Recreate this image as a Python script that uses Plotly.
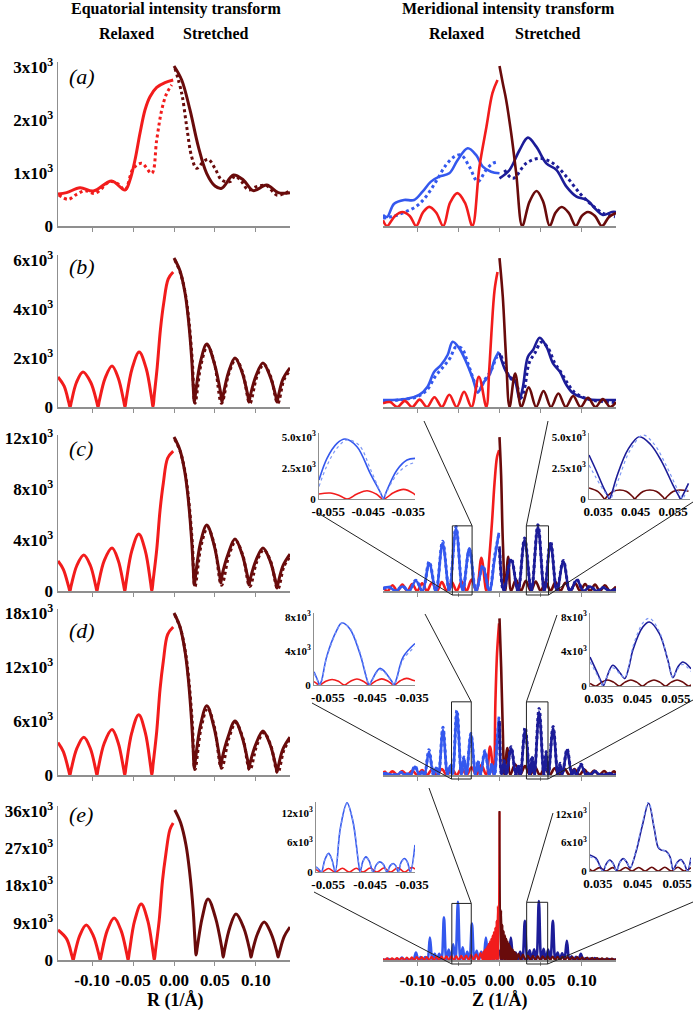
import plotly.graph_objects as go

# ===================== DATA =====================
# ---- Equatorial (left column) ----
EQ_A_REL_X = [-0.1415, -0.131, -0.1146, -0.0984, -0.076, -0.0598, -0.0537, -0.0476, -0.0415, -0.0354, -0.0293, -0.0211, -0.011, -0.001]
EQ_A_REL_Y = [604, 629, 723, 660, 849, 679, 868, 1245, 1749, 2189, 2440, 2617, 2705, 2755]
EQ_A_REL_DOT_X = [-0.1407, -0.129, -0.1187, -0.1085, -0.0963, -0.078, -0.068, -0.0598, -0.0496, -0.0394, -0.0272, -0.0211, -0.015, -0.0089, -0.0028]
EQ_A_REL_DOT_Y = [585, 503, 598, 667, 616, 837, 793, 679, 1088, 1183, 994, 1623, 2189, 2503, 2661]
EQ_A_STR_X = [0.0, 0.0094, 0.0195, 0.0297, 0.0398, 0.05, 0.0581, 0.0724, 0.0846, 0.0967, 0.113, 0.1272, 0.1415]
EQ_A_STR_Y = [3019, 2755, 2189, 1497, 994, 755, 711, 962, 868, 667, 774, 629, 629]
EQ_A_STR_DOT_X = [0.0012, 0.0094, 0.0155, 0.0215, 0.0276, 0.0358, 0.0419, 0.05, 0.0581, 0.0683, 0.0744, 0.0825, 0.0906, 0.1008, 0.113, 0.1252, 0.1354, 0.1415]
EQ_A_STR_DOT_Y = [2975, 2503, 1874, 1308, 1088, 1214, 1258, 1088, 868, 837, 944, 837, 679, 742, 761, 585, 616, 667]

EQ_B_REL_X = [-0.1415, -0.134, -0.1283, -0.1268, -0.1253, -0.119, -0.111, -0.1015, -0.0942, -0.0927, -0.0912, -0.084, -0.0756, -0.068, -0.0613, -0.0598, -0.0583, -0.051, -0.0425, -0.034, -0.0271, -0.0256, -0.0241, -0.0205, -0.0165, -0.0125, -0.007, -0.001]
EQ_B_REL_Y = [1224, 850, 175, 0, 200, 1000, 1430, 1000, 200, 0, 235, 1180, 1673, 1180, 235, 0, 315, 1580, 2244, 1580, 315, 0, 480, 1620, 3180, 4250, 5230, 5508]
EQ_B_STR_X = [0.0, 0.0073, 0.0134, 0.0175, 0.0215, 0.0233, 0.0248, 0.0263, 0.032, 0.040, 0.049, 0.057, 0.0585, 0.060, 0.0665, 0.0744, 0.083, 0.090, 0.0915, 0.093, 0.100, 0.1085, 0.117, 0.1241, 0.1256, 0.1271, 0.133, 0.1415]
EQ_B_STR_Y = [6080, 5560, 4660, 3590, 2010, 900, 200, 560, 1800, 2570, 1800, 560, 200, 480, 1420, 2000, 1420, 480, 200, 450, 1270, 1795, 1270, 450, 200, 420, 1150, 1600]
EQ_DOT_X = [0.001, 0.0081, 0.0142, 0.0183, 0.0223, 0.0256, 0.033, 0.041, 0.0495, 0.058, 0.067, 0.0754, 0.084, 0.0925, 0.101, 0.1095, 0.118, 0.1266, 0.134, 0.1415]
EQ_B_STR_DOT_Y = [6000, 5450, 4550, 3480, 1900, 150, 1740, 2500, 1760, 150, 1380, 1950, 1380, 150, 1230, 1740, 1230, 150, 1100, 1500]

EQ_CD_REL_X = [-0.1415, -0.135, -0.1285, -0.127, -0.1255, -0.1185, -0.110, -0.102, -0.0955, -0.094, -0.0925, -0.085, -0.0756, -0.068, -0.0615, -0.060, -0.0585, -0.0515, -0.043, -0.035, -0.0285, -0.027, -0.0255, -0.0211, -0.017, -0.013, -0.0077, -0.001]
EQ_C_REL_Y = [2352, 1700, 330, 0, 400, 2000, 2822, 2000, 400, 0, 470, 2400, 3371, 2400, 470, 0, 630, 3150, 4469, 3150, 630, 0, 800, 3220, 6350, 8470, 10430, 10976]
EQ_CD_STR_X = [0.0, 0.0073, 0.0134, 0.0175, 0.0215, 0.0233, 0.0248, 0.0263, 0.032, 0.040, 0.0485, 0.0555, 0.057, 0.0585, 0.066, 0.0744, 0.083, 0.09, 0.0915, 0.093, 0.100, 0.1085, 0.117, 0.1241, 0.1256, 0.1271, 0.133, 0.1415]
EQ_C_STR_Y = [12074, 11050, 9250, 7130, 4000, 2000, 470, 1190, 3700, 5174, 3700, 1350, 627, 1200, 2900, 4077, 2900, 1040, 470, 940, 2400, 3371, 2400, 700, 235, 640, 2000, 2900]
EQ_C_STR_DOT_Y = [11900, 10850, 9050, 6900, 3800, 350, 3550, 4980, 3560, 450, 2780, 3920, 2780, 350, 2300, 3230, 2300, 150, 1900, 2700]

EQ_D_REL_Y = [3600, 2600, 510, 0, 590, 2950, 4200, 2950, 590, 0, 700, 3550, 5050, 3550, 700, 0, 940, 4700, 6700, 4700, 940, 0, 1200, 4820, 9540, 12670, 15630, 16450]
EQ_D_STR_Y = [18000, 16470, 13790, 10620, 5940, 3000, 720, 1800, 5400, 7700, 5400, 1980, 900, 1740, 4250, 6000, 4250, 1540, 700, 1390, 3450, 4900, 3450, 1040, 350, 940, 2900, 4200]
EQ_D_STR_DOT_Y = [17800, 16200, 13500, 10350, 5800, 600, 5200, 7450, 5250, 750, 4100, 5800, 4100, 550, 3300, 4700, 3300, 250, 2750, 4000]

EQ_E_REL_X = [-0.1415, -0.131, -0.1245, -0.123, -0.1215, -0.115, -0.107, -0.0985, -0.0915, -0.090, -0.0885, -0.0815, -0.073, -0.0645, -0.0575, -0.056, -0.0545, -0.048, -0.040, -0.032, -0.0255, -0.024, -0.0225, -0.018, -0.014, -0.010, -0.005, -0.001]
EQ_E_REL_Y = [7250, 5100, 1000, 0, 1180, 5900, 8450, 5900, 1180, 0, 1420, 7100, 10150, 7100, 1420, 0, 1900, 9500, 13530, 9500, 1900, 0, 2400, 9700, 19200, 25500, 31500, 33100]
EQ_E_STR_X = [0.001, 0.008, 0.0146, 0.019, 0.0234, 0.0255, 0.027, 0.0285, 0.0345, 0.0415, 0.0505, 0.0585, 0.060, 0.0615, 0.068, 0.0756, 0.085, 0.0925, 0.094, 0.0955, 0.102, 0.110, 0.1185, 0.1255, 0.127, 0.1285, 0.1345, 0.1415]
EQ_E_STR_Y = [36240, 33200, 27800, 21400, 12000, 5000, 1200, 3200, 10300, 14740, 10300, 2700, 700, 2250, 7800, 11100, 7800, 2250, 700, 1980, 6400, 9180, 6400, 1980, 700, 1800, 5700, 7970]

# ---- Meridional (right column) ----
MER_A_REL_X = [-0.1415, -0.1366, -0.127, -0.118, -0.109, -0.1012, -0.093, -0.0854, -0.077, -0.0683, -0.060, -0.0512, -0.042, -0.0329, -0.0244, -0.0159, -0.0085, -0.0024]
MER_A_REL_Y = [110, 0, 190, 264, 190, 0, 255, 360, 255, 0, 440, 620, 440, 0, 1113, 1868, 2510, 2755]
MER_A_STR_X = [0.0, 0.004, 0.0081, 0.0142, 0.0203, 0.0276, 0.0365, 0.045, 0.053, 0.061, 0.068, 0.0756, 0.084, 0.0927, 0.100, 0.1073, 0.116, 0.1244, 0.133, 0.1415]
MER_A_STR_Y = [3019, 2692, 2378, 1749, 994, 0, 460, 660, 460, 0, 250, 358, 250, 0, 190, 264, 190, 0, 170, 245]
MER_A_BLUE_X = [-0.1415, -0.1366, -0.128, -0.1159, -0.1037, -0.0935, -0.0833, -0.0732, -0.061, -0.0508, -0.0386, -0.0285, -0.0203, -0.0102, 0.0]
MER_A_BLUE_Y = [208, 170, 420, 491, 491, 648, 837, 931, 994, 1245, 1466, 1340, 1120, 1025, 994]
MER_A_BDOT_X = [-0.1415, -0.133, -0.124, -0.1016, -0.0894, -0.0772, -0.065, -0.0549, -0.0467, -0.0366, -0.0264, -0.0163, -0.0081, -0.0008]
MER_A_BDOT_Y = [150, 170, 208, 365, 553, 837, 1151, 1308, 1340, 1120, 837, 1057, 1183, 1214]
MER_A_DBLUE_X = [0.0, 0.0122, 0.0244, 0.0345, 0.0447, 0.0569, 0.0691, 0.0813, 0.0935, 0.1057, 0.1179, 0.1256, 0.1366, 0.1415]
MER_A_DBLUE_Y = [899, 1057, 1434, 1667, 1497, 1183, 1057, 742, 553, 491, 302, 208, 264, 264]
MER_A_DBDOT_X = [0.0061, 0.0163, 0.0325, 0.0488, 0.065, 0.0813, 0.0976, 0.1098, 0.126, 0.1402]
MER_A_DBDOT_Y = [1057, 899, 1183, 1277, 1183, 931, 616, 428, 239, 176]

MER_B_REL_X = [-0.1415, -0.133, -0.124, -0.115, -0.106, -0.097, -0.088, -0.079, -0.070, -0.061, -0.052, -0.043, -0.034, -0.025, -0.016, -0.0125, -0.0098, -0.006, -0.0024]
MER_B_REL_Y = [150, 200, 0, 250, 0, 300, 0, 400, 0, 500, 0, 620, 0, 1230, 0, 1500, 3020, 4770, 5508]
MER_B_STR_X = [0.0, 0.004, 0.008, 0.0122, 0.019, 0.0265, 0.0355, 0.0445, 0.0535, 0.0625, 0.0715, 0.0805, 0.0895, 0.0985, 0.1075, 0.1165, 0.1255, 0.1345, 0.1415]
MER_B_STR_Y = [6080, 4500, 2000, 0, 1370, 0, 800, 0, 650, 0, 550, 0, 450, 0, 380, 0, 320, 0, 200]
MER_B_BLUE_X = [-0.1415, -0.1138, -0.0976, -0.0874, -0.0793, -0.0711, -0.063, -0.0569, -0.0488, -0.0406, -0.0325, -0.0264, -0.0203, -0.0122, -0.0061, -0.0008]
MER_B_BLUE_Y = [286, 326, 490, 830, 1442, 1713, 2122, 2665, 2393, 1850, 1170, 585, 966, 1306, 1918, 2258]
MER_B_BDOT_X = [-0.1415, -0.12, -0.10, -0.088, -0.078, -0.068, -0.060, -0.053, -0.046, -0.038, -0.030, -0.0245, -0.018, -0.010, -0.004, 0.0]
MER_B_BDOT_Y = [200, 300, 420, 700, 1250, 1650, 2000, 2450, 2400, 1750, 1000, 700, 1100, 1500, 2000, 2200]
MER_B_DBLUE_X = [0.0, 0.0061, 0.0122, 0.0183, 0.0244, 0.0285, 0.0345, 0.0407, 0.0488, 0.057, 0.065, 0.0732, 0.0813, 0.0894, 0.0976, 0.1077, 0.122, 0.1415]
MER_B_DBLUE_Y = [2190, 1578, 1238, 1102, 313, 830, 2054, 2326, 2829, 2462, 1782, 1442, 898, 558, 422, 313, 286, 286]
MER_B_DBDOT_X = [0.002, 0.008, 0.014, 0.020, 0.0255, 0.030, 0.036, 0.043, 0.051, 0.059, 0.067, 0.075, 0.083, 0.091, 0.100, 0.11, 0.125, 0.1415]
MER_B_DBDOT_Y = [2100, 1500, 1150, 1000, 350, 700, 1800, 2200, 2650, 2400, 1800, 1400, 950, 600, 420, 300, 220, 180]

MER_C_REL_X = [-0.1415, -0.136, -0.130, -0.124, -0.118, -0.112, -0.106, -0.100, -0.094, -0.088, -0.082, -0.076, -0.070, -0.064, -0.058, -0.052, -0.046, -0.040, -0.034, -0.028, -0.022, -0.016, -0.0125, -0.009, -0.006, -0.003, -0.0005]
MER_C_REL_Y = [300, 0, 450, 0, 500, 0, 550, 0, 600, 0, 650, 0, 700, 0, 700, 0, 750, 0, 900, 0, 2600, 0, 2500, 5500, 8500, 10500, 11050]
MER_C_STR_X = [0.0, 0.002, 0.004, 0.007, 0.0105, 0.014, 0.020, 0.026, 0.032, 0.038, 0.044, 0.050, 0.056, 0.062, 0.068, 0.074, 0.080, 0.086, 0.092, 0.098, 0.104, 0.110, 0.116, 0.122, 0.128, 0.134, 0.1415]
MER_C_STR_Y = [12070, 9000, 4000, 0, 2690, 0, 900, 0, 800, 0, 750, 0, 700, 0, 700, 0, 650, 0, 600, 0, 550, 0, 500, 0, 450, 0, 350]
MER_C_BLUE_X = [-0.1415, -0.134, -0.126, -0.118, -0.1098, -0.1016, -0.0935, -0.0854, -0.0772, -0.0691, -0.061, -0.0528, -0.0447, -0.0366, -0.0285, -0.0203, -0.0122, -0.006, -0.0008]
MER_C_BLUE_Y = [200, 300, 0, 350, 0, 808, 0, 2170, 0, 3740, 0, 4914, 0, 3348, 0, 1905, 0, 2500, 4570]
MER_C_BDOT_Y = [180, 320, 0, 380, 0, 850, 0, 2300, 0, 3900, 0, 5050, 0, 3250, 0, 1980, 0, 2700, 4450]
MER_C_DBLUE_X = [0.0, 0.005, 0.0142, 0.0224, 0.0305, 0.0386, 0.0467, 0.0545, 0.062, 0.0697, 0.0775, 0.0857, 0.094, 0.102, 0.110, 0.118, 0.126, 0.134, 0.1415]
MER_C_DBLUE_Y = [3500, 0, 2430, 0, 4000, 0, 5040, 0, 3740, 0, 2300, 0, 860, 0, 350, 0, 250, 0, 150]
MER_C_DBDOT_Y = [3300, 0, 2550, 0, 4150, 0, 5200, 0, 3900, 0, 2400, 0, 900, 0, 380, 0, 270, 0, 160]

MER_D_REL_X = [-0.1415, -0.139, -0.136, -0.130, -0.124, -0.118, -0.112, -0.106, -0.100, -0.094, -0.088, -0.082, -0.076, -0.070, -0.064, -0.058, -0.052, -0.046, -0.040, -0.034, -0.028, -0.022, -0.016, -0.0115, -0.007, -0.005, -0.003, -0.0005]
MER_D_REL_Y = [300, 350, 0, 400, 0, 450, 0, 500, 0, 550, 0, 600, 0, 650, 0, 700, 0, 750, 0, 850, 0, 1100, 0, 3150, 0, 8000, 13500, 16850]
MER_D_STR_X = [0.0, 0.002, 0.004, 0.006, 0.0095, 0.013, 0.019, 0.025, 0.031, 0.037, 0.043, 0.049, 0.055, 0.061, 0.067, 0.073, 0.079, 0.085, 0.091, 0.097, 0.103, 0.109, 0.115, 0.121, 0.127, 0.133, 0.139, 0.1415]
MER_D_STR_Y = [17400, 12000, 5000, 0, 3000, 0, 1200, 0, 1000, 0, 900, 0, 800, 0, 750, 0, 700, 0, 650, 0, 600, 0, 500, 0, 450, 0, 400, 200]
MER_D_BLUE_X = [-0.1415, -0.1367, -0.1312, -0.1282, -0.1252, -0.1197, -0.1142, -0.1112, -0.1082, -0.1027, -0.0972, -0.0942, -0.0912, -0.0857, -0.0802, -0.0772, -0.0742, -0.0687, -0.0632, -0.0602, -0.0572, -0.0517, -0.0462, -0.0432, -0.0402, -0.0347, -0.0292, -0.0262, -0.0232, -0.0177, -0.0122, -0.0092, -0.0062, -0.003, -0.0007]
MER_D_BLUE_Y = [100, 150, 0, 80, 0, 250, 0, 150, 0, 900, 0, 300, 0, 2590, 0, 800, 0, 5000, 0, 1000, 0, 6900, 0, 1950, 0, 4500, 0, 1500, 0, 2600, 0, 1200, 0, 3500, 6480]
MER_D_BDOT_Y = [120, 180, 0, 100, 0, 300, 0, 180, 0, 1000, 0, 350, 0, 2800, 0, 900, 0, 5300, 0, 1100, 0, 7200, 0, 2000, 0, 4600, 0, 1600, 0, 2700, 0, 1300, 0, 3600, 6300]
MER_D_DBLUE_X = [0.0, 0.0025, 0.0056, 0.0083, 0.0141, 0.0199, 0.0226, 0.0253, 0.0311, 0.0369, 0.0396, 0.0423, 0.0481, 0.0539, 0.0566, 0.0593, 0.0651, 0.0709, 0.0736, 0.0763, 0.0821, 0.0879, 0.0906, 0.0933, 0.0991, 0.1049, 0.1076, 0.1103, 0.1161, 0.1219, 0.1246, 0.1273, 0.1331, 0.1389, 0.1415]
MER_D_DBLUE_Y = [6000, 0, 1500, 0, 2960, 0, 1000, 0, 5000, 0, 2000, 0, 7000, 0, 2500, 0, 5190, 0, 1200, 0, 2780, 0, 500, 0, 1110, 0, 250, 0, 400, 0, 100, 0, 200, 0, 50]
MER_D_DBDOT_Y = [5800, 0, 1600, 0, 3150, 0, 1100, 0, 5300, 0, 2100, 0, 7400, 0, 2600, 0, 5400, 0, 1300, 0, 2900, 0, 550, 0, 1200, 0, 280, 0, 420, 0, 110, 0, 200, 0, 60]

MER_E_REL_X = [-0.1415, -0.1395, -0.1365, -0.1335, -0.1305, -0.1275, -0.1245, -0.1215, -0.1185, -0.1155, -0.1125, -0.1095, -0.1065, -0.1035, -0.1005, -0.0975, -0.0945, -0.0915, -0.0885, -0.0855, -0.0825, -0.0795, -0.0765, -0.0735, -0.0705, -0.0675, -0.0645, -0.0615, -0.0585, -0.0555, -0.0525, -0.0495, -0.0465, -0.0435, -0.0405, -0.0375, -0.0345, -0.0315, -0.0285, -0.0255, -0.023, -0.0205, -0.0197, -0.0189, -0.0181, -0.0173, -0.0165, -0.0157, -0.0149, -0.0141, -0.0133, -0.0125, -0.0117, -0.0109, -0.0101, -0.0093, -0.0085, -0.0077, -0.0069, -0.0061, -0.0053, -0.0045, -0.0037, -0.0029, -0.0021, -0.0013, 0.0]
MER_E_REL_Y = [300, 0, 400, 0, 450, 0, 500, 0, 550, 0, 600, 0, 650, 0, 700, 0, 700, 0, 750, 0, 800, 0, 800, 0, 850, 0, 900, 0, 900, 0, 950, 0, 1000, 0, 1100, 0, 1200, 0, 1400, 0, 1700, 0, 2000, 0, 2400, 0, 2800, 0, 3300, 0, 3900, 0, 4500, 0, 5200, 0, 6000, 0, 6800, 0, 7800, 0, 9500, 0, 13000, 0, 35800]
MER_E_STR_X = [0.0, 0.0013, 0.0021, 0.0029, 0.0037, 0.0045, 0.0053, 0.0061, 0.0069, 0.0077, 0.0085, 0.0093, 0.0101, 0.0109, 0.0117, 0.0125, 0.0133, 0.0141, 0.0149, 0.0157, 0.0165, 0.0173, 0.0181, 0.0189, 0.0197, 0.0205, 0.023, 0.0255, 0.0285, 0.0315, 0.0345, 0.0375, 0.0405, 0.0435, 0.0465, 0.0495, 0.0525, 0.0555, 0.0585, 0.0615, 0.0645, 0.0675, 0.0705, 0.0735, 0.0765, 0.0795, 0.0825, 0.0855, 0.0885, 0.0915, 0.0945, 0.0975, 0.1005, 0.1035, 0.1065, 0.1095, 0.1125, 0.1155, 0.1185, 0.1215, 0.1245, 0.1275, 0.1305, 0.1335, 0.1365, 0.1395, 0.1415]
MER_E_STR_Y = [36000, 0, 12000, 0, 8500, 0, 7000, 0, 6000, 0, 5200, 0, 4500, 0, 3900, 0, 3300, 0, 2800, 0, 2400, 0, 2000, 0, 1700, 0, 1500, 0, 1300, 0, 1100, 0, 1000, 0, 950, 0, 900, 0, 900, 0, 850, 0, 800, 0, 800, 0, 750, 0, 700, 0, 700, 0, 650, 0, 600, 0, 550, 0, 500, 0, 450, 0, 400, 0, 350, 0, 300]
MER_E_BLUE_X = [-0.1415, -0.1397, -0.1385, -0.1355, -0.1325, -0.1297, -0.127, -0.1242, -0.1215, -0.1185, -0.1155, -0.1127, -0.11, -0.1072, -0.1045, -0.1015, -0.0985, -0.0957, -0.093, -0.0902, -0.0875, -0.0845, -0.0815, -0.0787, -0.076, -0.0732, -0.0705, -0.0675, -0.0645, -0.0617, -0.059, -0.0562, -0.0535, -0.0505, -0.0475, -0.0447, -0.042, -0.0392, -0.0365, -0.0335, -0.0305, -0.0277, -0.025, -0.0222, -0.0195, -0.0165, -0.0135, -0.0107, -0.008, -0.0052, -0.0025]
MER_E_BLUE_Y = [60, 80, 0, 300, 0, 120, 0, 120, 0, 600, 0, 250, 0, 250, 0, 1780, 0, 700, 0, 700, 0, 5420, 0, 1500, 0, 1500, 0, 10290, 0, 2500, 0, 3780, 0, 14060, 0, 3080, 0, 2000, 0, 8830, 0, 2200, 0, 2000, 0, 5420, 0, 1800, 0, 1800, 0]
MER_E_DBLUE_X = [0.0, 0.0025, 0.0046, 0.0067, 0.0088, 0.0108, 0.0138, 0.0168, 0.0196, 0.0223, 0.0251, 0.0278, 0.0308, 0.0338, 0.0366, 0.0393, 0.0421, 0.0448, 0.0478, 0.0508, 0.0536, 0.0563, 0.0591, 0.0618, 0.0648, 0.0678, 0.0706, 0.0733, 0.0761, 0.0788, 0.0818, 0.0848, 0.0876, 0.0903, 0.0931, 0.0958, 0.0988, 0.1018, 0.1046, 0.1073, 0.1101, 0.1128, 0.1158, 0.1188, 0.1216, 0.1243, 0.1271, 0.1298, 0.1328, 0.1358, 0.1386, 0.1415]
MER_E_DBLUE_Y = [2500, 0, 1500, 0, 1800, 0, 5420, 0, 1800, 0, 2000, 0, 9480, 0, 2320, 0, 2600, 0, 14250, 0, 2700, 0, 2500, 0, 9480, 0, 1800, 0, 1600, 0, 4620, 0, 900, 0, 800, 0, 1500, 0, 400, 0, 350, 0, 500, 0, 200, 0, 150, 0, 200, 0, 100, 50]

# ---- Insets ----
IN_CL_BLUE_X = [-0.0573, -0.0553, -0.0528, -0.0508, -0.0478, -0.0445, -0.0418, -0.0412, -0.0406, -0.0378, -0.0353, -0.0333]
IN_CL_BLUE_Y = [1530, 3280, 4490, 4840, 4220, 2070, 420, 0, 480, 2340, 3140, 3280]
IN_CL_BDOT_X = [-0.0573, -0.0553, -0.0528, -0.0503, -0.0473, -0.0443, -0.0418, -0.0412, -0.0406, -0.0378, -0.0353, -0.0333]
IN_CL_BDOT_Y = [1000, 2700, 4100, 4760, 4350, 2300, 420, 0, 420, 2000, 2700, 2950]
IN_CL_RED_X = [-0.0573, -0.0545, -0.0520, -0.0503, -0.0478, -0.0453, -0.0430, -0.0412, -0.0387, -0.0362, -0.0337, -0.0333]
IN_CL_RED_Y = [400, 480, 250, 0, 400, 670, 400, 0, 500, 780, 450, 320]
IN_CR_DBLUE_X = [0.0326, 0.0345, 0.0365, 0.0376, 0.038, 0.0385, 0.040, 0.043, 0.046, 0.049, 0.052, 0.055, 0.0565, 0.057, 0.0575, 0.0591]
IN_CR_DBLUE_Y = [3550, 2300, 900, 250, 0, 300, 1800, 4000, 5020, 4400, 3000, 1100, 250, 0, 250, 1265]
IN_CR_BDOT_X = [0.0326, 0.0345, 0.0365, 0.0378, 0.0383, 0.0388, 0.0405, 0.0435, 0.047, 0.050, 0.053, 0.0558, 0.0571, 0.0576, 0.058, 0.0591]
IN_CR_BDOT_Y = [2740, 1700, 700, 200, 0, 250, 1600, 3900, 5150, 4400, 2800, 1000, 250, 0, 250, 1000]
IN_CR_DRED_X = [0.0326, 0.035, 0.0362, 0.0368, 0.0374, 0.039, 0.0408, 0.0426, 0.0442, 0.0448, 0.0454, 0.047, 0.0488, 0.0506, 0.0522, 0.0528, 0.0534, 0.055, 0.0568, 0.0591]
IN_CR_DRED_Y = [890, 600, 200, 0, 200, 600, 720, 600, 200, 0, 200, 600, 720, 600, 200, 0, 200, 600, 720, 620]

IN_DL_BLUE_X = [-0.0583, -0.0573, -0.0570, -0.0565, -0.0553, -0.0529, -0.0517, -0.0498, -0.0474, -0.0458, -0.0452, -0.0446, -0.0426, -0.0399, -0.0393, -0.0387, -0.0371, -0.0343]
IN_DL_BLUE_Y = [1560, 390, 0, 500, 3310, 6430, 7290, 6630, 3700, 800, 0, 500, 1950, 500, 0, 700, 3310, 4880]
IN_DL_BDOT_Y = [1400, 350, 0, 450, 3200, 6350, 7250, 6700, 3900, 900, 0, 450, 1800, 450, 0, 600, 3000, 4500]
IN_DL_RED_X = [-0.0583, -0.0576, -0.0570, -0.0555, -0.0540, -0.0525, -0.0511, -0.0496, -0.0481, -0.0466, -0.0452, -0.0437, -0.0422, -0.0407, -0.0393, -0.0378, -0.0363, -0.0348, -0.0343]
IN_DL_RED_Y = [400, 150, 0, 450, 650, 450, 0, 450, 700, 450, 0, 450, 720, 450, 0, 500, 780, 550, 500]
IN_DR_DBLUE_X = [0.0327, 0.0343, 0.0356, 0.0361, 0.0368, 0.0386, 0.0405, 0.0417, 0.0428, 0.0438, 0.0464, 0.0481, 0.0507, 0.0529, 0.0542, 0.0555, 0.0568, 0.0589]
IN_DR_DBLUE_Y = [3360, 1820, 500, 0, 700, 2400, 1500, 860, 2200, 4140, 6840, 7420, 6080, 2980, 970, 2200, 2780, 2000]
IN_DR_BDOT_Y = [2800, 1500, 400, 0, 800, 2100, 1400, 1000, 2400, 4500, 7300, 7850, 6300, 3000, 1000, 2000, 2500, 1700]
IN_DR_DRED_X = [0.0327, 0.0335, 0.0343, 0.0358, 0.0373, 0.0388, 0.0403, 0.0418, 0.0433, 0.0448, 0.0463, 0.0478, 0.0493, 0.0508, 0.0523, 0.0538, 0.0553, 0.0568, 0.0583, 0.0589]
IN_DR_DRED_Y = [300, 100, 0, 450, 700, 450, 0, 450, 700, 450, 0, 450, 700, 450, 0, 450, 700, 450, 0, 150]

IN_EL_BLUE_X = [-0.0579, -0.0572, -0.0566, -0.0558, -0.0549, -0.0541, -0.0533, -0.0521, -0.0505, -0.0491, -0.0478, -0.0474, -0.0467, -0.046, -0.0452, -0.0443, -0.0435, -0.0427, -0.0418, -0.041, -0.0402, -0.0395, -0.0389, -0.0383, -0.0376, -0.0368, -0.0361, -0.0354, -0.0343]
IN_EL_BLUE_Y = [1030, 500, 0, 2500, 3780, 2500, 0, 8920, 14060, 10270, 2050, 0, 2200, 3080, 2200, 0, 1500, 2050, 1500, 0, 1300, 1730, 1300, 0, 2000, 2750, 2000, 0, 5500]
IN_EL_BDOT_Y = [900, 450, 0, 2400, 3700, 2400, 0, 8600, 13900, 10500, 2200, 0, 2100, 3000, 2100, 0, 1400, 1950, 1400, 0, 1200, 1650, 1200, 0, 1900, 2600, 1900, 0, 5000]
IN_EL_RED_X = [-0.0579, -0.0566, -0.0549, -0.0533, -0.0516, -0.0500, -0.0483, -0.0467, -0.0450, -0.0434, -0.0417, -0.0401, -0.0384, -0.0368, -0.0351, -0.0343]
IN_EL_RED_Y = [500, 0, 700, 0, 750, 0, 750, 0, 800, 0, 800, 0, 850, 0, 900, 600]
IN_ER_DBLUE_X = [0.0329, 0.0345, 0.0356, 0.0363, 0.0371, 0.038, 0.0389, 0.0397, 0.0405, 0.0414, 0.0423, 0.0431, 0.0446, 0.0462, 0.0478, 0.0492, 0.0502, 0.051, 0.0522, 0.0532, 0.054, 0.055, 0.0559, 0.0568, 0.0576, 0.0585]
IN_ER_DBLUE_Y = [3400, 2700, 900, 0, 1500, 2320, 1500, 0, 1800, 2600, 1800, 600, 4000, 9500, 14250, 9000, 5000, 4400, 4200, 3000, 300, 1800, 2400, 1500, 0, 2800]
IN_ER_BDOT_Y = [3000, 2400, 700, 0, 1300, 2200, 1400, 0, 1700, 2500, 1900, 700, 4300, 10000, 14600, 9300, 5200, 4500, 4100, 2800, 200, 1700, 2300, 1400, 0, 2500]
IN_ER_DRED_X = [0.0329, 0.0337, 0.0354, 0.037, 0.0387, 0.0403, 0.042, 0.0436, 0.0453, 0.0469, 0.0486, 0.0502, 0.0519, 0.0535, 0.0552, 0.0568, 0.0585]
IN_ER_DRED_Y = [400, 0, 700, 0, 700, 0, 750, 0, 750, 0, 800, 0, 800, 0, 800, 0, 700]

# ---- ticks ----
X_TICKS = [-0.10, -0.05, 0.0, 0.05, 0.10]
X_TICK_TEXT = ["-0.10", "-0.05", "0.00", "0.05", "0.10"]
Y_TICKS = [[0, 1000, 2000, 3000], [0, 2000, 4000, 6000], [0, 4000, 8000, 12000],
           [0, 6000, 12000, 18000], [0, 9000, 18000, 27000, 36000]]
Y_TICK_TEXT = [["0", "1x10<sup>3</sup>", "2x10<sup>3</sup>", "3x10<sup>3</sup>"],
               ["0", "2x10<sup>3</sup>", "4x10<sup>3</sup>", "6x10<sup>3</sup>"],
               ["0", "4x10<sup>3</sup>", "8x10<sup>3</sup>", "12x10<sup>3</sup>"],
               ["0", "6x10<sup>3</sup>", "12x10<sup>3</sup>", "18x10<sup>3</sup>"],
               ["0", "9x10<sup>3</sup>", "18x10<sup>3</sup>", "27x10<sup>3</sup>", "36x10<sup>3</sup>"]]
IN_XT_L = [-0.055, -0.045, -0.035]
IN_XT_R = [0.035, 0.045, 0.055]
IN_YT = [[0, 2500, 5000], [0, 4000, 8000], [0, 6000, 12000]]
IN_YTT = [["0", "2.5x10<sup>3</sup>", "5.0x10<sup>3</sup>"],
          ["0", "4x10<sup>3</sup>", "8x10<sup>3</sup>"],
          ["0", "6x10<sup>3</sup>", "12x10<sup>3</sup>"]]
PANEL_LABELS = ["a", "b", "c", "d", "e"]

# ===================== STYLE / LAYOUT =====================
W, H = 693, 1012
RED = "#F21C1C"
DRED = "#690B0B"
BLUE = "#3458EE"
DBLUE = "#1C1C98"
LBLUE = "#7E98F4"
GRAY = "#8F8F8F"
FONT = "Liberation Serif"

ZERO_PX = [226, 407, 591, 775, 960]
TOP_PX = [62, 255, 435, 609, 806]
YMAX = [3094, 6204, 12235, 18444, 37208]
LEFT_PX = (58, 290)
RIGHT_PX = (383, 616)
XR = [-0.1415, 0.1415]

# insets: (x px span, zero px, top px, x range, y max)
INSETS = [
    ((319, 415), 499, 433, [-0.0573, -0.0333], 5323),
    ((589, 690), 499, 433, [0.0326, 0.0595], 5323),
    ((314, 415), 685, 613, [-0.0583, -0.0343], 8470),
    ((590, 691), 686, 613, [0.0327, 0.0589], 8464),
    ((316, 415), 872, 802, [-0.0579, -0.0343], 14237),
    ((590, 691), 871, 802, [0.033, 0.0585], 14526),
]


def fx(p):
    return p / W


def fy(p):
    return 1 - p / H


def aid(n):
    return "" if n == 1 else str(n)


fig = go.Figure()


def add(x, y, color, width, n, dash="solid"):
    fig.add_trace(go.Scatter(
        x=x, y=y, mode="lines",
        line=dict(color=color, width=width, dash=dash, shape="spline", smoothing=1),
        xaxis="x" + aid(n), yaxis="y" + aid(n),
        hoverinfo="skip", showlegend=False))


layout = dict(
    width=W, height=H, margin=dict(l=0, r=0, t=0, b=0, pad=0, autoexpand=False),
    paper_bgcolor="white", plot_bgcolor="rgba(0,0,0,0)", showlegend=False,
    font=dict(family=FONT, color="black"),
)

tick_font = dict(family=FONT, size=17, color="black", weight="bold")

for i in range(5):
    ydom = [fy(ZERO_PX[i]), fy(TOP_PX[i])]
    for j, xpx in enumerate([LEFT_PX, RIGHT_PX]):
        n = 2 * i + j + 1
        layout["xaxis" + aid(n)] = dict(
            domain=[fx(xpx[0]), fx(xpx[1])], range=XR, anchor="y" + aid(n),
            showline=True, linecolor=GRAY, linewidth=1.5, ticks="outside", ticklen=4,
            tickcolor=GRAY, tickwidth=1, tickvals=X_TICKS, ticktext=X_TICK_TEXT,
            showticklabels=(i == 4), tickfont=tick_font, showgrid=False, zeroline=False,
            automargin=False)
        layout["yaxis" + aid(n)] = dict(
            domain=ydom, range=[0, YMAX[i]], anchor="x" + aid(n),
            showline=(j == 0), linecolor=GRAY, linewidth=1.5, ticks="",
            tickvals=Y_TICKS[i], ticktext=Y_TICK_TEXT[i], showticklabels=(j == 0),
            tickfont=tick_font, showgrid=False, zeroline=False, visible=(j == 0),
            automargin=False)

for k, (xpx, zp, tp, xr, ym) in enumerate(INSETS):
    n = 11 + k
    left = (k % 2 == 0)
    xt = IN_XT_L if left else IN_XT_R
    layout["xaxis" + aid(n)] = dict(
        domain=[fx(xpx[0]), fx(xpx[1])], range=xr, anchor="y" + aid(n),
        showline=True, linecolor=GRAY, linewidth=1, ticks="",
        tickvals=xt, ticktext=["%.3f" % v for v in xt],
        tickfont=dict(family=FONT, size=13, color="black", weight="bold"),
        showgrid=False, zeroline=False, automargin=False)
    layout["yaxis" + aid(n)] = dict(
        domain=[fy(zp), fy(tp)], range=[0, ym], anchor="x" + aid(n),
        showline=True, linecolor=GRAY, linewidth=1, ticks="",
        tickvals=IN_YT[k // 2], ticktext=IN_YTT[k // 2],
        tickfont=dict(family=FONT, size=11, color="black", weight="bold"),
        showgrid=False, zeroline=False, automargin=False)

# ---------------- traces: left column ----------------
LW = 3
add(EQ_A_REL_DOT_X, EQ_A_REL_DOT_Y, RED, LW, 1, "dot")
add(EQ_A_REL_X, EQ_A_REL_Y, RED, LW, 1)
add(EQ_A_STR_DOT_X, EQ_A_STR_DOT_Y, DRED, LW, 1, "dot")
add(EQ_A_STR_X, EQ_A_STR_Y, DRED, LW, 1)

add(EQ_B_REL_X, EQ_B_REL_Y, RED, LW, 3)
add(EQ_DOT_X, EQ_B_STR_DOT_Y, DRED, LW, 3, "dot")
add(EQ_B_STR_X, EQ_B_STR_Y, DRED, LW, 3)

add(EQ_CD_REL_X, EQ_C_REL_Y, RED, LW, 5)
add(EQ_DOT_X, EQ_C_STR_DOT_Y, DRED, LW, 5, "dot")
add(EQ_CD_STR_X, EQ_C_STR_Y, DRED, LW, 5)

add(EQ_CD_REL_X, EQ_D_REL_Y, RED, LW, 7)
add(EQ_DOT_X, EQ_D_STR_DOT_Y, DRED, LW, 7, "dot")
add(EQ_CD_STR_X, EQ_D_STR_Y, DRED, LW, 7)

add(EQ_E_REL_X, EQ_E_REL_Y, RED, LW, 9)
add(EQ_E_STR_X, EQ_E_STR_Y, DRED, LW, 9)

# ---------------- traces: right column ----------------
RW = 2.6
add(MER_A_BDOT_X, MER_A_BDOT_Y, BLUE, 3, 2, "dot")
add(MER_A_BLUE_X, MER_A_BLUE_Y, BLUE, RW, 2)
add(MER_A_DBDOT_X, MER_A_DBDOT_Y, DBLUE, 3, 2, "dot")
add(MER_A_DBLUE_X, MER_A_DBLUE_Y, DBLUE, RW, 2)
add(MER_A_REL_X, MER_A_REL_Y, RED, RW, 2)
add(MER_A_STR_X, MER_A_STR_Y, DRED, RW, 2)

add(MER_B_BDOT_X, MER_B_BDOT_Y, BLUE, 3, 4, "dot")
add(MER_B_BLUE_X, MER_B_BLUE_Y, BLUE, RW, 4)
add(MER_B_DBDOT_X, MER_B_DBDOT_Y, DBLUE, 3, 4, "dot")
add(MER_B_DBLUE_X, MER_B_DBLUE_Y, DBLUE, RW, 4)
add(MER_B_REL_X, MER_B_REL_Y, RED, RW, 4)
add(MER_B_STR_X, MER_B_STR_Y, DRED, RW, 4)

add(MER_C_REL_X, MER_C_REL_Y, RED, RW, 6)
add(MER_C_STR_X, MER_C_STR_Y, DRED, RW, 6)
add(MER_C_BLUE_X, MER_C_BLUE_Y, BLUE, RW, 6)
add(MER_C_BLUE_X, MER_C_BDOT_Y, BLUE, 3, 6, "dot")
add(MER_C_DBLUE_X, MER_C_DBLUE_Y, DBLUE, RW, 6)
add(MER_C_DBLUE_X, MER_C_DBDOT_Y, DBLUE, 3, 6, "dot")

add(MER_D_REL_X, MER_D_REL_Y, RED, RW, 8)
add(MER_D_STR_X, MER_D_STR_Y, DRED, RW, 8)
add(MER_D_BLUE_X, MER_D_BLUE_Y, BLUE, RW, 8)
add(MER_D_BLUE_X, MER_D_BDOT_Y, BLUE, 3, 8, "dot")
add(MER_D_DBLUE_X, MER_D_DBLUE_Y, DBLUE, RW, 8)
add(MER_D_DBLUE_X, MER_D_DBDOT_Y, DBLUE, 3, 8, "dot")

add(MER_E_BLUE_X, MER_E_BLUE_Y, BLUE, RW, 10)
add(MER_E_DBLUE_X, MER_E_DBLUE_Y, DBLUE, RW, 10)
add(MER_E_REL_X, MER_E_REL_Y, RED, 2, 10)
add(MER_E_STR_X, MER_E_STR_Y, DRED, 2, 10)

# ---------------- traces: insets ----------------
IW = 1.6
add(IN_CL_RED_X, IN_CL_RED_Y, RED, IW, 11)
add(IN_CL_BLUE_X, IN_CL_BLUE_Y, BLUE, IW, 11)
add(IN_CL_BDOT_X, IN_CL_BDOT_Y, LBLUE, 1.2, 11, "dot")
add(IN_CR_DRED_X, IN_CR_DRED_Y, DRED, IW, 12)
add(IN_CR_DBLUE_X, IN_CR_DBLUE_Y, DBLUE, IW, 12)
add(IN_CR_BDOT_X, IN_CR_BDOT_Y, LBLUE, 1.2, 12, "dot")

add(IN_DL_RED_X, IN_DL_RED_Y, RED, IW, 13)
add(IN_DL_BLUE_X, IN_DL_BLUE_Y, BLUE, IW, 13)
add(IN_DL_BLUE_X, IN_DL_BDOT_Y, LBLUE, 1.2, 13, "dot")
add(IN_DR_DRED_X, IN_DR_DRED_Y, DRED, IW, 14)
add(IN_DR_DBLUE_X, IN_DR_DBLUE_Y, DBLUE, IW, 14)
add(IN_DR_DBLUE_X, IN_DR_BDOT_Y, LBLUE, 1.2, 14, "dot")

add(IN_EL_RED_X, IN_EL_RED_Y, RED, IW, 15)
add(IN_EL_BLUE_X, IN_EL_BLUE_Y, BLUE, IW, 15)
add(IN_EL_BLUE_X, IN_EL_BDOT_Y, LBLUE, 1.2, 15, "dot")
add(IN_ER_DRED_X, IN_ER_DRED_Y, DRED, IW, 16)
add(IN_ER_DBLUE_X, IN_ER_DBLUE_Y, DBLUE, IW, 16)
add(IN_ER_DBLUE_X, IN_ER_BDOT_Y, LBLUE, 1.2, 16, "dot")

# ---------------- zoom boxes and connector lines ----------------
def main_px_x(v):
    return RIGHT_PX[0] + (v - XR[0]) / (XR[1] - XR[0]) * (RIGHT_PX[1] - RIGHT_PX[0])


def main_px_y(v, row):
    return ZERO_PX[row] - v / YMAX[row] * (ZERO_PX[row] - TOP_PX[row])


CONNECT_PX = {2: [(424, 421), (318, 513), (548, 421), (693, 502)],
              3: [(425, 614), (312, 703), (557, 615), (693, 700)],
              4: [(429, 788), (314, 892), (553, 813), (693, 902)]}
shapes = []
for row in (2, 3, 4):
    kL, kR = 2 * (row - 2), 2 * (row - 2) + 1
    boxes = []
    for k in (kL, kR):
        xr, ym = INSETS[k][3], INSETS[k][4]
        x0, x1 = main_px_x(xr[0]), main_px_x(xr[1])
        y1 = main_px_y(ym * 0.96, row)
        y0 = ZERO_PX[row] + 4
        boxes.append((x0, x1, y0, y1))
        shapes.append(dict(type="rect", xref="paper", yref="paper",
                           x0=fx(x0), x1=fx(x1), y0=fy(y0), y1=fy(y1),
                           line=dict(color="#222222", width=1)))
    (lx0, lx1, ly0, ly1), (rx0, rx1, ry0, ry1) = boxes
    ends = CONNECT_PX[row]
    starts = [(lx1, ly1), (lx0, ly0), (rx0, ry1), (rx1, ry0)]
    for (sx, sy), (ex, ey) in zip(starts, ends):
        shapes.append(dict(type="line", xref="paper", yref="paper",
                           x0=fx(sx), y0=fy(sy), x1=fx(ex), y1=fy(ey),
                           line=dict(color="#222222", width=1)))
layout["shapes"] = shapes

# ---------------- annotations ----------------
ann = []


def text(t, xp, yp, size, anchor="center", bold=True):
    ann.append(dict(text=t, x=fx(xp), y=fy(yp), xref="paper", yref="paper",
                    showarrow=False, xanchor=anchor, yanchor="middle",
                    font=dict(family=FONT, size=size, color="black",
                              weight="bold" if bold else "normal")))


text("Equatorial intensity transform", 176, 9, 16)
text("Relaxed", 126, 33, 16)
text("Stretched", 216, 33, 16)
text("Meridional intensity transform", 508, 9, 16)
text("Relaxed", 457, 33, 16)
text("Stretched", 548, 33, 16)
LABEL_Y = [76, 267, 448, 630, 814]
for lab, yv in zip(PANEL_LABELS, LABEL_Y):
    text("<i>(" + lab + ")</i>", 67, yv, 22, anchor="left", bold=False)
text("R (1/Å)", 175, 1000, 18)
text("Z (1/Å)", 500, 1000, 18)
layout["annotations"] = ann

fig.update_layout(**layout)
fig.write_html("out.html",
               config={"displayModeBar": False, "staticPlot": True},
               post_script="document.body.style.margin='0px';document.body.style.overflow='hidden';")
